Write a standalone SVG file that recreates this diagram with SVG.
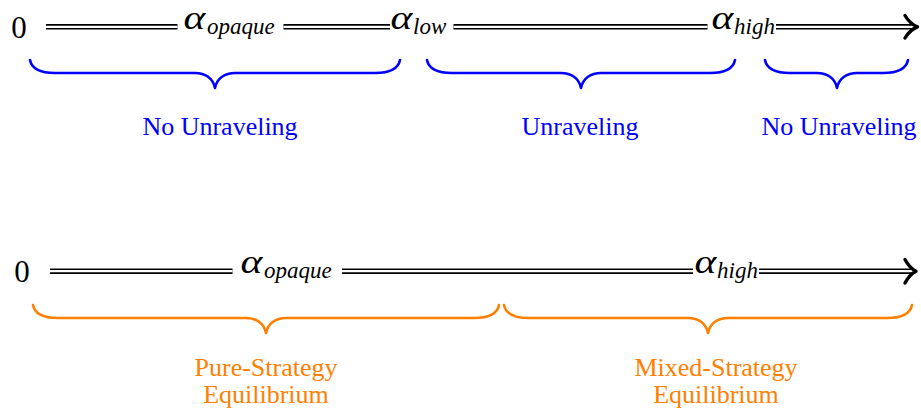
<svg xmlns="http://www.w3.org/2000/svg" xmlns:xlink="http://www.w3.org/1999/xlink" width="921" height="410" viewBox="0 0 921 410">
  <style>
    .rail-outer { fill: none; stroke: #000; stroke-width: 5.6; }
    .rail-inner { fill: none; stroke: #fff; stroke-width: 2.3; }
    .tip { fill: none; stroke: #000; stroke-width: 3.4; stroke-linecap: round; stroke-linejoin: round; }
    text { font-family: 'Liberation Serif', 'DejaVu Serif', serif; }
    .num { font-size: 31px; fill: #000; text-anchor: middle; }
    .alpha { font-style: italic; font-size: 34px; fill: #000; }
    .sub { font-style: italic; font-size: 23px; fill: #000; }
    .brace { fill: none; stroke-width: 2.6; stroke-linecap: round; stroke-linejoin: round; }
    .blue { stroke: #0000ff; }
    .orange { stroke: #ff8000; }
    .label { font-size: 26px; text-anchor: middle; }
    .label-blue { fill: #0000ff; }
    .label-orange { fill: #ff8000; }
  </style>
  <defs>
    <path id="rail-top" d="M46,26.8H177.5 M283.5,26.8H390 M453.5,26.8H707.5 M776,26.8H914"/>
    <path id="rail-bottom" d="M50,271.2H232.5 M342,271.2H693 M759,271.2H913"/>
  </defs>

  <rect width="921" height="410" fill="#fff"/>

  <!-- upper axis -->
  <g id="axis-top">
    <use xlink:href="#rail-top" class="rail-outer"/>
    <use xlink:href="#rail-top" class="rail-inner"/>
    <path class="tip" d="M905,15.5 Q910,24 917.5,26.8 Q910,29.6 905,38"/>
  </g>
  <g id="tick-top-0"><text class="num" x="19" y="38">0</text></g>
  <g id="tick-top-opaque"><text class="alpha" transform="translate(183.5,29) scale(1.22,1)">α</text><text class="sub" x="207" y="33.5">opaque</text></g>
  <g id="tick-top-low"><text class="alpha" transform="translate(390.5,29) scale(1.22,1)">α</text><text class="sub" x="413" y="33.5">low</text></g>
  <g id="tick-top-high"><text class="alpha" transform="translate(711.5,29) scale(1.22,1)">α</text><text class="sub" x="734" y="33.5">high</text></g>

  <!-- upper braces -->
  <g id="region-top-1">
    <path class="brace blue" d="M30,60 C32,70 42,73 55,73 L195,73 C205,73 213,78 215,88 C217,78 225,73 235,73 L375,73 C388,73 398,70 400,60"/>
    <text class="label label-blue" x="220" y="135">No Unraveling</text>
  </g>
  <g id="region-top-2">
    <path class="brace blue" d="M427,60 C429,70 439,73 452,73 L561,73 C571,73 579,78 581,88 C583,78 591,73 601,73 L710,73 C723,73 733,70 735,60"/>
    <text class="label label-blue" x="580" y="135">Unraveling</text>
  </g>
  <g id="region-top-3">
    <path class="brace blue" d="M765,60 C767,70 777,73 790,73 L817,73 C827,73 835,78 837,88 C839,78 847,73 857,73 L883,73 C896,73 906,70 908,60"/>
    <text class="label label-blue" x="839" y="135">No Unraveling</text>
  </g>

  <!-- lower axis -->
  <g id="axis-bottom">
    <use xlink:href="#rail-bottom" class="rail-outer"/>
    <use xlink:href="#rail-bottom" class="rail-inner"/>
    <path class="tip" d="M905,259.5 Q909.5,268 916,271.2 Q909.5,274.4 905,283"/>
  </g>
  <g id="tick-bottom-0"><text class="num" x="22" y="282">0</text></g>
  <g id="tick-bottom-opaque"><text class="alpha" transform="translate(240.5,273) scale(1.22,1)">α</text><text class="sub" x="264" y="277.5">opaque</text></g>
  <g id="tick-bottom-high"><text class="alpha" transform="translate(694.5,273) scale(1.22,1)">α</text><text class="sub" x="717" y="277.5">high</text></g>

  <!-- lower braces -->
  <g id="region-bottom-1">
    <path class="brace orange" d="M33,305 C35,315 45,318 58,318 L246,318 C256,318 264,323 266,333 C268,323 276,318 286,318 L474,318 C487,318 497,315 499,305"/>
    <text class="label label-orange" x="266" y="376">Pure-Strategy</text>
    <text class="label label-orange" x="266" y="403">Equilibrium</text>
  </g>
  <g id="region-bottom-2">
    <path class="brace orange" d="M504,305 C506,315 516,318 529,318 L688,318 C698,318 706,323 708,333 C710,323 718,318 728,318 L887,318 C900,318 910,315 912,305"/>
    <text class="label label-orange" x="716" y="376">Mixed-Strategy</text>
    <text class="label label-orange" x="716" y="403">Equilibrium</text>
  </g>
</svg>
